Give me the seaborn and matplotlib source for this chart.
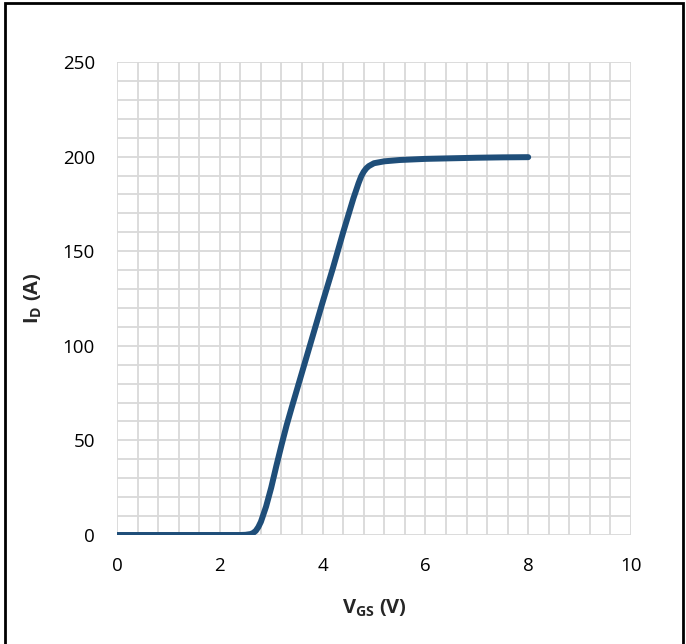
import matplotlib
matplotlib.use("Agg")
import matplotlib.pyplot as plt
from matplotlib.patches import Rectangle
import numpy as np
import pandas as pd
import seaborn as sns

# transfer curve
VGS = [0, 0.5, 1.0, 1.5, 2.0, 2.4, 2.5, 2.6, 2.65, 2.7, 2.75, 2.8, 2.9, 3.0,
       3.1, 3.2, 3.3, 3.4, 3.6, 3.8, 4.0, 4.2, 4.4, 4.6, 4.7, 4.75, 4.8,
       4.85, 4.9, 5.0, 5.2, 5.5, 6.0, 6.5, 7.0, 7.5, 8.0]
ID = [0, 0, 0, 0, 0, 0, 0.1, 0.5, 1.1, 2.2, 4.2, 7, 15, 25,
      36.5, 47.5, 58, 67.5, 86, 104.5, 123, 141, 160, 178, 186, 189.5, 192,
      193.8, 195, 196.5, 197.5, 198.2, 198.8, 199.1, 199.4, 199.6, 199.7]
X_TICKS = [0, 2, 4, 6, 8, 10]
Y_TICKS = [0, 50, 100, 150, 200, 250]

LINE_COLOR = "#1F4E79"
GRID_COLOR = "#D9D9D9"

sns.set_theme(style="white")
plt.rcParams["font.family"] = ["Open Sans", "DejaVu Sans"]
plt.rcParams["mathtext.fontset"] = "custom"
plt.rcParams["mathtext.rm"] = "Open Sans"
plt.rcParams["mathtext.bf"] = "Open Sans:bold"

df = pd.DataFrame({"vgs": VGS, "id": ID})

fig = plt.figure(figsize=(6.86, 6.44), dpi=100)
ax = fig.add_axes([117 / 686, 109 / 644, 514 / 686, 473 / 644])

sns.lineplot(data=df, x="vgs", y="id", ax=ax, color=LINE_COLOR,
             linewidth=4.3, solid_capstyle="round", solid_joinstyle="round")

ax.set_xlim(0, 10)
ax.set_ylim(0, 250)
ax.set_xticks(X_TICKS)
ax.set_yticks(Y_TICKS)
ax.set_xticks(np.arange(0, 10.01, 0.4), minor=True)
ax.set_yticks(np.arange(0, 250.1, 10), minor=True)
ax.grid(True, which="both", color=GRID_COLOR, linewidth=1.3)
ax.set_axisbelow(True)
for s in ax.spines.values():
    s.set_visible(False)
ax.tick_params(which="both", length=0, labelsize=13.5, colors="black")
ax.tick_params(axis="x", pad=16)
ax.tick_params(axis="y", pad=16)

ax.set_xlabel(r"V$_\mathbf{GS}$ (V)", fontsize=14.5, fontweight="bold", labelpad=16)
ax.set_ylabel(r"I$_\mathbf{D}$ (A)", fontsize=14.5, fontweight="bold", labelpad=13)

# outer frame like the source screenshot
fig.patches.append(Rectangle((5 / 686, -0.02), 678 / 686, 1.02 - 3 / 644,
                             transform=fig.transFigure, fill=False,
                             edgecolor="black", linewidth=2, clip_on=False))

fig.savefig("out.png", dpi=100)
